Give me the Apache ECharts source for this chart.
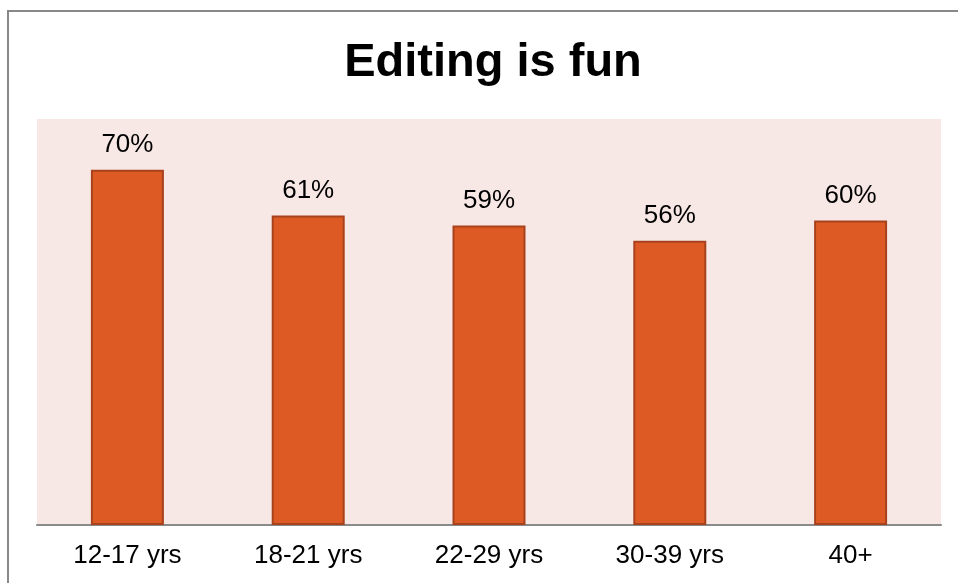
<!DOCTYPE html>
<html>
<head>
<meta charset="utf-8">
<script src="https://cdn.jsdelivr.net/npm/echarts@6/dist/echarts.min.js"></script>
<style>
html,body{margin:0;padding:0;background:#fff;}
#main{width:958px;height:583px;}
</style>
</head>
<body>
<div id="main"></div>
<script>
const categories = ['12-17 yrs', '18-21 yrs', '22-29 yrs', '30-39 yrs', '40+'];
const values = [70, 61, 59, 56, 60];
const titleText = 'Editing is fun';

const chart = echarts.init(document.getElementById('main'), null, {renderer: 'canvas'});
chart.setOption({
  animation: false,
  backgroundColor: '#ffffff',
  title: {
    text: titleText,
    left: 488,
    top: 35,
    textAlign: 'center',
    textStyle: {
      fontFamily: 'Liberation Sans, Arial, sans-serif',
      fontWeight: 'bold',
      fontSize: 47,
      color: '#000000'
    }
  },
  graphic: [
    {
      type: 'rect',
      shape: {x: 8, y: 11, width: 1200, height: 1200},
      style: {fill: 'none', stroke: '#888888', lineWidth: 2},
      silent: true,
      z: 100
    }
  ],
  grid: {
    left: 37,
    right: 17,
    top: 119,
    bottom: 58,
    show: true,
    backgroundColor: '#F8E8E5',
    borderWidth: 0
  },
  xAxis: {
    type: 'category',
    data: categories,
    axisTick: {show: false},
    axisLine: {show: true, lineStyle: {color: '#8a8a8a', width: 2}},
    axisLabel: {
      margin: 18,
      fontFamily: 'Liberation Sans, Arial, sans-serif',
      fontSize: 26,
      color: '#000000'
    }
  },
  yAxis: {
    type: 'value',
    min: 0,
    max: 80,
    show: false,
    splitLine: {show: false}
  },
  series: [{
    type: 'bar',
    data: values,
    barWidth: 73,
    itemStyle: {
      color: '#DD5A24',
      borderColor: '#A8421C',
      borderWidth: 2
    },
    label: {
      show: true,
      position: 'top',
      distance: 12,
      formatter: '{c}%',
      fontFamily: 'Liberation Sans, Arial, sans-serif',
      fontSize: 26,
      color: '#000000'
    }
  }]
});
</script>
</body>
</html>
